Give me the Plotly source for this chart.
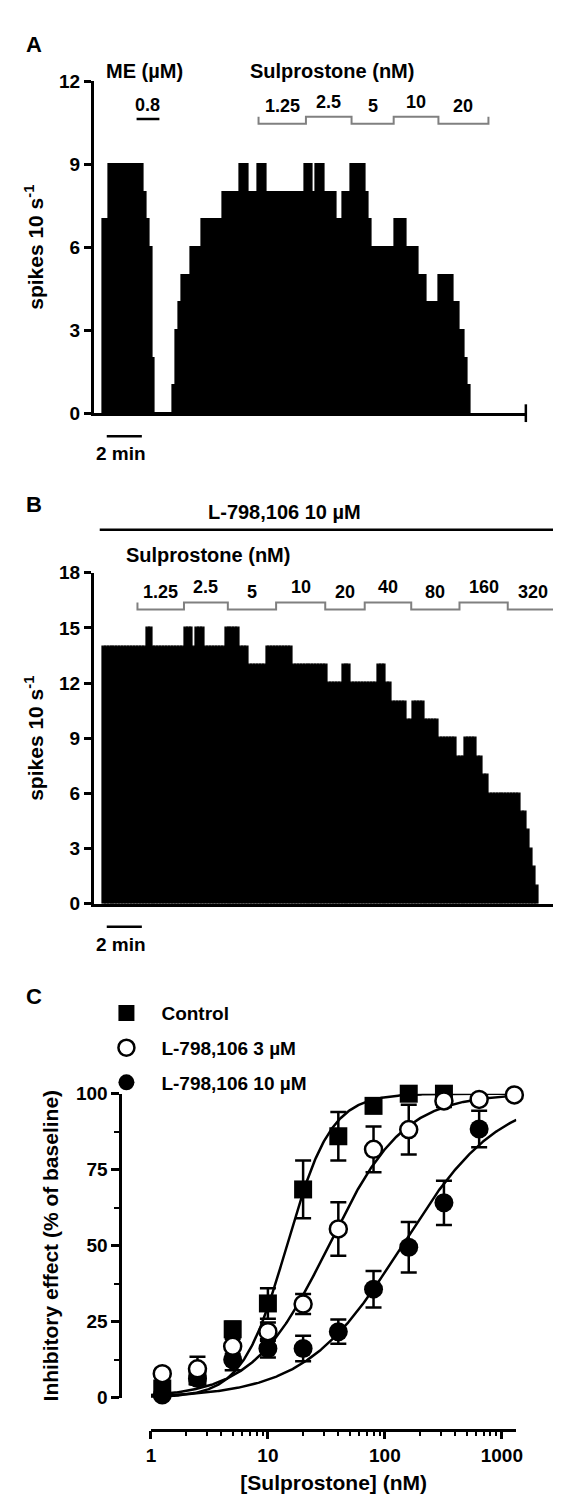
import numpy as np
import plotly.graph_objects as go

W, H = 561, 1497
FONT = "Liberation Sans"

# ---------------- data: panel A (spikes per 10-s bin) ----------------
BIN_MIN = 10 / 60          # 10 s bins, in minutes
A_START_MIN = 0.5
a_spikes = [7, 7, 9, 9, 9, 9, 9, 9, 9, 9, 9, 9, 9, 9, 8, 7, 6, 2,
            0, 0, 0, 0, 0, 0,
            1, 3, 4, 5, 5, 5, 6, 6, 6, 6, 7, 7, 7, 7, 7, 7, 7,
            8, 8, 8, 8, 8, 8, 9, 9, 9, 8, 8, 8, 9, 9, 9,
            8, 8, 8, 8, 8, 8, 8, 8, 8, 8, 8, 8, 8,
            9, 9, 9, 8, 9, 9, 9, 8, 8, 8, 8, 7, 7, 8, 8, 8,
            9, 9, 9, 9, 9, 8, 7, 6, 6, 6, 6, 6, 6, 6, 6,
            7, 7, 7, 7, 6, 6, 6, 6, 5, 5, 5, 4, 4, 4, 4,
            5, 5, 5, 5, 5, 4, 4, 3, 3, 2, 1]
a_me_label = "0.8"
a_me_window = [2.45, 3.75]                     # min
a_sulp_labels = ["1.25", "2.5", "5", "10", "20"]
a_sulp_edges = [9.4, 12.1, 14.7, 17.1, 19.65, 22.5]   # min

# ---------------- data: panel B ----------------
B_START_MIN = 0.5
b_spikes = [14] * 15 + [15] * 2 + [14] * 11 + [15] * 3 + [14] * 1 + [15] * 3 + \
           [14] * 7 + [15] * 5 + [14] * 3 + [13] * 6 + [14] * 9 + [13] * 12 + \
           [12] * 5 + [13] * 3 + [12] * 9 + [13] * 3 + [12] * 2 + [11] * 5 + \
           [10] * 2 + [11] * 4 + [10] * 5 + [9] * 6 + [8] * 3 + [9] * 4 + \
           [8] * 2 + [7] * 2 + [6] * 11 + [5] * 2 + [4, 3, 2, 1]
b_antag_label = "L-798,106 10 \u00b5M"
b_antag_window = [0.35, 26.4]
b_sulp_labels = ["1.25", "2.5", "5", "10", "20", "40", "80", "160", "320"]
b_sulp_edges = [2.5, 5.15, 7.65, 10.4, 13.2, 15.45, 18.1, 20.85, 23.6, 26.5]

# ---------------- data: panel C ----------------
c_conc_ctrl = [1.25, 2.5, 5, 10, 20, 40, 80, 160, 320]
c_ctrl = [3, 7, 22.5, 31, 68.5, 86, 96, 100, 100]
c_ctrl_sem = [1.5, 2, 2.5, 5, 9.5, 8, 2, 1, 0.5]
c_conc_l3 = [1.25, 2.5, 5, 10, 20, 40, 80, 160, 320, 640, 1280]
c_l3 = [7.9, 9.5, 16.9, 21.7, 30.8, 55.5, 81.7, 88.2, 97.6, 98.1, 99.6]
c_l3_sem = [1.5, 4, 2.5, 3, 3.3, 8.8, 7.5, 8.2, 2, 1.5, 1]
c_conc_l10 = [1.25, 2.5, 5, 10, 20, 40, 80, 160, 320, 640]
c_l10 = [0.9, 6.3, 12.5, 16.2, 16.2, 21.7, 35.7, 49.5, 64.1, 88.4]
c_l10_sem = [1, 2, 3.5, 3, 4.2, 4, 6, 8.3, 7.3, 6]
# fitted sigmoid (Hill) parameters, bottom 0 / top 100
fit_names = ["Control", "L-798,106 3 \u00b5M", "L-798,106 10 \u00b5M"]
fit_ec50 = [14.5, 33.0, 140.0]
fit_hill = [2.3, 1.35, 1.05]

# ---------------- layout geometry (pixels) ----------------
AX_L = 82.2
PX_PER_MIN = 17.9
A_RIGHT, B_RIGHT = 523.1, 557.0
A_TOP, A_BOT = 64.2, 400.8
B_TOP, B_BOT = 562.7, 898.3
C_YAX_X = 109.3
C_X0, C_X1 = 140.7, 513.4
C_TOP, C_BOT = 1091.0, 1399.3
C_XAX_Y = 1431.7
PX_PER_DEC = 119.3


def px(p):
    return p / W


def py(p):
    return 1 - p / H


A_XMAX = (A_RIGHT - AX_L) / PX_PER_MIN
B_XMAX = (B_RIGHT - AX_L) / PX_PER_MIN
C_LOGMAX = (C_X1 - C_X0) / PX_PER_DEC

fig = go.Figure()

bar_style = dict(color="black", line=dict(color="black", width=1.2))
a_t = A_START_MIN + BIN_MIN * (np.arange(len(a_spikes)) + 0.5)
fig.add_trace(go.Bar(x=a_t, y=a_spikes, width=BIN_MIN, marker=bar_style,
                     xaxis="x", yaxis="y", showlegend=False, hoverinfo="skip"))
b_t = B_START_MIN + BIN_MIN * (np.arange(len(b_spikes)) + 0.5)
fig.add_trace(go.Bar(x=b_t, y=b_spikes, width=BIN_MIN, marker=bar_style,
                     xaxis="x2", yaxis="y2", showlegend=False, hoverinfo="skip"))

# fitted curves
xc = np.logspace(0, C_LOGMAX, 400)
for ec, nh in zip(fit_ec50, fit_hill):
    yc = 100 / (1 + (ec / xc) ** nh)
    fig.add_trace(go.Scatter(x=xc, y=yc, mode="lines", line=dict(color="black", width=2.5),
                             cliponaxis=False, xaxis="x3", yaxis="y3",
                             showlegend=False, hoverinfo="skip"))

err = lambda a: dict(type="data", array=a, visible=True, color="black", thickness=2.5, width=8)
fig.add_trace(go.Scatter(x=c_conc_ctrl, y=c_ctrl, error_y=err(c_ctrl_sem), mode="markers",
                         marker=dict(symbol="square", size=18, color="black"), cliponaxis=False,
                         name=fit_names[0], legendrank=1, legendgroup="a",
                         xaxis="x3", yaxis="y3"))
fig.add_trace(go.Scatter(x=c_conc_l10, y=c_l10, error_y=err(c_l10_sem), mode="markers",
                         marker=dict(symbol="circle", size=19, color="black"), cliponaxis=False,
                         name=fit_names[2], legendrank=3, legendgroup="c",
                         xaxis="x3", yaxis="y3"))
fig.add_trace(go.Scatter(x=c_conc_l3, y=c_l3, error_y=err(c_l3_sem), mode="markers",
                         marker=dict(symbol="circle", size=17, color="white",
                                     line=dict(color="black", width=2.5)), cliponaxis=False,
                         name=fit_names[1], legendrank=2, legendgroup="b",
                         xaxis="x3", yaxis="y3"))

tickfont = dict(family=FONT, size=19, color="black", weight="bold")
titlefont = dict(family=FONT, size=21, color="black", weight="bold")
base = dict(showline=True, linecolor="black", linewidth=2.5, showgrid=False, zeroline=False,
            ticks="outside", ticklen=7, tickwidth=2.5, tickcolor="black", tickfont=tickfont,
            fixedrange=True)

fig.update_layout(
    width=W, height=H, margin=dict(l=0, r=0, t=0, b=0),
    paper_bgcolor="white", plot_bgcolor="white", bargap=0,
    font=dict(family=FONT, color="black"),
    xaxis=dict(base, domain=[px(AX_L), px(A_RIGHT)], range=[0, A_XMAX], anchor="y",
               ticks="", showticklabels=False),
    yaxis=dict(base, domain=[py(A_BOT), py(A_TOP)], range=[0, 12], anchor="x",
               tickvals=[0, 3, 6, 9, 12],
               title=dict(text="spikes 10 s<sup>-1</sup>", font=titlefont, standoff=10)),
    xaxis2=dict(base, domain=[px(AX_L), px(B_RIGHT)], range=[0, B_XMAX], anchor="y2",
                ticks="", showticklabels=False),
    yaxis2=dict(base, domain=[py(B_BOT), py(B_TOP)], range=[0, 18], anchor="x2",
                tickvals=[0, 3, 6, 9, 12, 15, 18],
                title=dict(text="spikes 10 s<sup>-1</sup>", font=titlefont, standoff=10)),
    xaxis3=dict(base, type="log", domain=[px(C_X0), px(C_X1)], range=[0, C_LOGMAX],
                anchor="free", position=py(C_XAX_Y), ticklen=8,
                tickvals=[1, 10, 100, 1000], ticktext=["1", "10", "100", "1000"],
                minor=dict(ticks="outside", ticklen=5, tickwidth=2, tickcolor="black",
                           tickvals=[2, 3, 4, 5, 6, 7, 8, 9, 20, 30, 40, 50, 60, 70, 80, 90,
                                     200, 300, 400, 500, 600, 700, 800, 900]),
                title=dict(text="[Sulprostone] (nM)", font=titlefont, standoff=10)),
    yaxis3=dict(base, domain=[py(C_BOT), py(C_TOP)], range=[0, 100], anchor="free",
                position=px(C_YAX_X), ticklen=8, tickvals=[0, 25, 50, 75, 100],
                minor=dict(ticks="outside", ticklen=5, tickwidth=2, tickcolor="black",
                           tickvals=[12.5, 37.5, 62.5, 87.5]),
                title=dict(text="Inhibitory effect (% of baseline)", font=titlefont, standoff=10)),
    legend=dict(x=px(80), y=py(990), xanchor="left", yanchor="top",
                font=dict(family=FONT, size=19, color="black", weight="bold"),
                bgcolor="rgba(0,0,0,0)", tracegroupgap=7, itemsizing="trace", itemwidth=60),
    showlegend=True,
)

ann = []
shapes = []


def label(text, x, y, size=20, xref="paper", yref="paper", xanchor="center"):
    ann.append(dict(text=text, x=x, y=y, xref=xref, yref=yref, showarrow=False,
                    xanchor=xanchor, yanchor="middle",
                    font=dict(family=FONT, size=size, color="black", weight="bold")))


# panel letters
label("A", px(21.5), py(27), size=22)
label("B", px(21.5), py(493), size=22)
label("C", px(21.5), py(992), size=22)

GRAY = "#808080"


def bracket(xref, edges, labels, y_low, y_high, lab_low, lab_high):
    pts = [(edges[0], y_high), (edges[0], y_low)]
    for i in range(len(labels)):
        lvl = y_low if i % 2 == 0 else y_high
        pts.append((edges[i], lvl))
        pts.append((edges[i + 1], lvl))
        xm = 0.5 * (edges[i] + edges[i + 1])
        label(labels[i], xm, py(lab_low if i % 2 == 0 else lab_high), size=18, xref=xref)
    pts.append((edges[-1], y_high))
    path = "M " + " L ".join(f"{x},{py(y)}" for x, y in pts)
    shapes.append(dict(type="path", path=path, xref=xref, yref="paper",
                       line=dict(color=GRAY, width=2)))


# Panel A decorations
label("ME (\u00b5M)", px(134), py(54))
label("Sulprostone (nM)", px(325), py(54))
label(a_me_label, 0.5 * (a_me_window[0] + a_me_window[1]), py(88.5), size=18, xref="x")
shapes.append(dict(type="line", xref="x", yref="paper", x0=a_me_window[0], x1=a_me_window[1],
                   y0=py(102.5), y1=py(102.5), line=dict(color="black", width=2.5)))
bracket("x", a_sulp_edges, a_sulp_labels, 107.3, 100.2, 89.5, 85.5)

# Panel B decorations
label(b_antag_label, px(276.5), py(501.5))
shapes.append(dict(type="line", xref="x2", yref="paper", x0=b_antag_window[0], x1=b_antag_window[1],
                   y0=py(519), y1=py(519), line=dict(color="black", width=2.5)))
label("Sulprostone (nM)", px(199), py(545))
bracket("x2", b_sulp_edges, b_sulp_labels, 600.0, 592.7, 582.3, 576.7)

# axis end ticks and 2-min scale bars
for xdom, ybase in (("x domain", A_BOT), ("x2 domain", B_BOT)):
    shapes.append(dict(type="line", xref=xdom, yref="paper", x0=1, x1=1,
                       y0=py(ybase - 9), y1=py(ybase + 9), line=dict(color="black", width=2.5)))
for xr, ybase in (("x", A_BOT), ("x2", B_BOT)):
    shapes.append(dict(type="line", xref=xr, yref="paper", x0=0.75, x1=2.75,
                       y0=py(ybase + 23.5), y1=py(ybase + 23.5), line=dict(color="black", width=2.5)))
    label("2 min", 1.55, py(ybase + 41), xref=xr, size=19)

fig.update_layout(annotations=ann, shapes=shapes)
fig.write_html("out.html")
